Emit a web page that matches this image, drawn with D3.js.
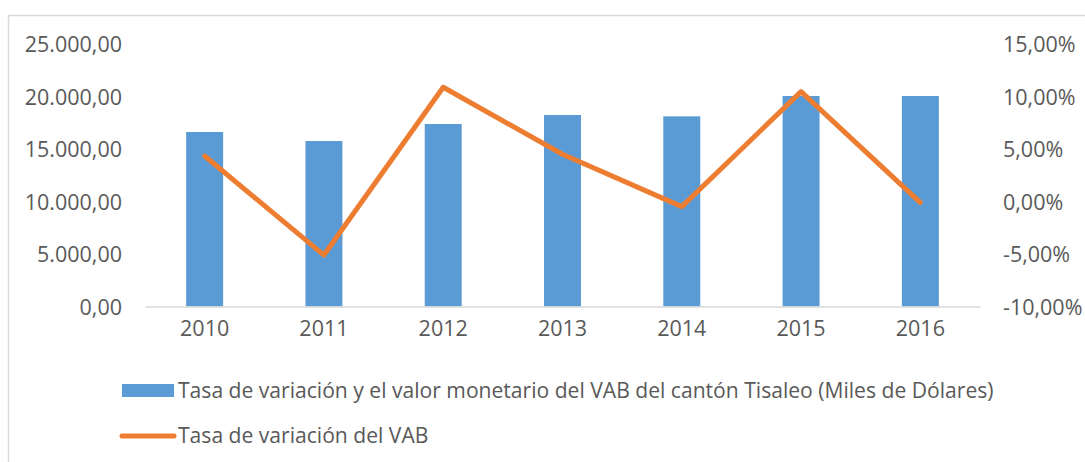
<!DOCTYPE html>
<html>
<head>
<meta charset="utf-8">
<script src="https://cdn.jsdelivr.net/npm/d3@7"></script>
<style>
  html, body { margin: 0; padding: 0; background: #fff; }
  svg { display: block; font-family: 'Open Sans', sans-serif; }
  .axis text { fill: #595959; }
</style>
</head>
<body>
<svg id="chart" width="1085" height="462"></svg>
<script>
const years = ['2010', '2011', '2012', '2013', '2014', '2015', '2016'];
const vab = [16620, 15760, 17380, 18240, 18110, 20050, 20050];
const tasa = [4.33, -5.1, 10.88, 4.5, -0.49, 10.46, -0.11];
const leftTicks = [0, 5000, 10000, 15000, 20000, 25000];
const rightTicks = [-10, -5, 0, 5, 10, 15];
const legendLabels = [
    'Tasa de variación y el valor monetario del VAB del cantón Tisaleo (Miles de Dólares)',
    'Tasa de variación del VAB'
];

const blue = '#5B9BD5';
const orange = '#ED7D31';
const grey = '#595959';

const svg = d3.select('#chart');
const plot = { left: 145, right: 980, top: 44, bottom: 306.5 };

// marco
svg.append('path')
    .attr('d', `M8.5,462 V15.5 H1085`)
    .attr('fill', 'none')
    .attr('stroke', '#d9d9d9')
    .attr('stroke-width', 1.5);

const x = d3.scaleBand().domain(years).range([plot.left, plot.right]).paddingInner(0.69).paddingOuter(0.345);
const yL = d3.scaleLinear().domain([0, 25000]).range([plot.bottom, plot.top]);
const yR = d3.scaleLinear().domain([-10, 15]).range([plot.bottom, plot.top]);

const fmtLeft = (d) => d3.format(',.2f')(d).replace(/,/g, '#').replace('.', ',').replace(/#/g, '.');
const fmtRight = (d) => d3.format('.2f')(d).replace('.', ',').replace('\u2212', '-') + '%';

// eje izquierdo
const axisL = svg.append('g')
    .attr('class', 'axis')
    .attr('transform', `translate(${122},0)`)
    .call(d3.axisLeft(yL).tickValues(leftTicks).tickFormat(fmtLeft).tickSize(0).tickPadding(0));
axisL.select('.domain').remove();
axisL.selectAll('text').attr('font-size', 21.5).attr('font-family', 'Open Sans').attr('dy', '0.35em');

// eje derecho
const axisR = svg.append('g')
    .attr('class', 'axis')
    .attr('transform', `translate(${1003},0)`)
    .call(d3.axisRight(yR).tickValues(rightTicks).tickFormat(fmtRight).tickSize(0).tickPadding(0));
axisR.select('.domain').remove();
axisR.selectAll('text').attr('font-size', 21.5).attr('font-family', 'Open Sans').attr('dy', '0.35em');

// barras
svg.append('g')
    .selectAll('rect')
    .data(years)
    .join('rect')
    .attr('x', (d) => x(d))
    .attr('y', (d, i) => yL(vab[i]))
    .attr('width', x.bandwidth())
    .attr('height', (d, i) => yL(0) - yL(vab[i]))
    .attr('fill', blue);

// eje x
const axisX = svg.append('g')
    .attr('class', 'axis')
    .attr('transform', `translate(0,${plot.bottom})`)
    .call(d3.axisBottom(x).tickSize(0).tickPadding(14));
axisX.select('.domain').attr('stroke', '#d9d9d9').attr('stroke-width', 1.5);
axisX.selectAll('text').attr('font-size', 21.5).attr('font-family', 'Open Sans');

// linea
const line = d3.line()
    .x((d, i) => x(years[i]) + x.bandwidth() / 2)
    .y((d) => yR(d));

svg.append('path')
    .datum(tasa)
    .attr('d', line)
    .attr('fill', 'none')
    .attr('stroke', orange)
    .attr('stroke-width', 5)
    .attr('stroke-linejoin', 'round')
    .attr('stroke-linecap', 'round');

// leyenda
const legend = svg.append('g');
legend.append('rect')
    .attr('x', 122).attr('y', 384).attr('width', 52).attr('height', 13)
    .attr('fill', blue);
legend.append('line')
    .attr('x1', 122).attr('x2', 174).attr('y1', 436).attr('y2', 436)
    .attr('stroke', orange).attr('stroke-width', 5).attr('stroke-linecap', 'round');

legend.selectAll('text')
    .data(legendLabels)
    .join('text')
    .attr('x', 178)
    .attr('y', (d, i) => (i === 0 ? 398 : 443))
    .attr('font-size', 21.1)
    .attr('fill', grey)
    .text((d) => d);
</script>
</body>
</html>
